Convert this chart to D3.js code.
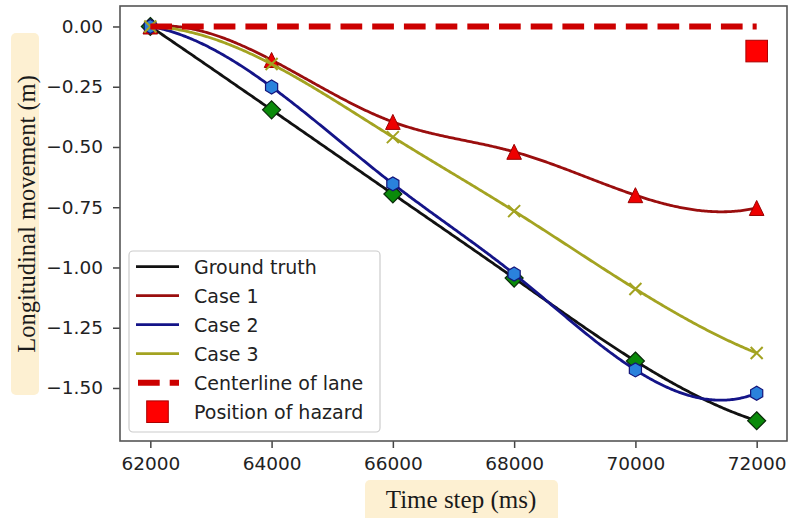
<!DOCTYPE html>
<html>
<head>
<meta charset="utf-8">
<script src="https://cdn.jsdelivr.net/npm/d3@7"></script>
<style>
  html, body { margin: 0; padding: 0; background: #fff; }
  svg { display: block; }
</style>
</head>
<body>
<svg id="chart" width="788" height="518"></svg>
<script>
// ---------- data ----------
const timeSteps = [62000, 64000, 66000, 68000, 70000, 72000];
const groundTruth = [0, -0.346, -0.695, -1.044, -1.388, -1.636];
const case1 = [0, -0.139, -0.396, -0.520, -0.700, -0.753];
const case2 = [0, -0.251, -0.653, -1.027, -1.425, -1.522];
const case3 = [0, -0.156, -0.459, -0.766, -1.089, -1.355];
const centerlineX = [62000, 72000];
const centerlineY = [0, 0];
const hazard = [72000, -0.102];
const xTicks = [62000, 64000, 66000, 68000, 70000, 72000];
const yTicks = [0, -0.25, -0.5, -0.75, -1.0, -1.25, -1.5];
const legendLabels = ["Ground truth", "Case 1", "Case 2", "Case 3", "Centerline of lane", "Position of hazard"];

// ---------- not-a-knot cubic spline ----------
function spline(xs, ys) {
  const n = xs.length;
  const h = [];
  for (let i = 0; i < n - 1; i++) h.push(xs[i + 1] - xs[i]);
  const A = Array.from({length: n}, () => new Array(n).fill(0));
  const b = new Array(n).fill(0);
  A[0][0] = h[1]; A[0][1] = -(h[0] + h[1]); A[0][2] = h[0];
  for (let i = 1; i < n - 1; i++) {
    A[i][i - 1] = h[i - 1];
    A[i][i] = 2 * (h[i - 1] + h[i]);
    A[i][i + 1] = h[i];
    b[i] = 6 * ((ys[i + 1] - ys[i]) / h[i] - (ys[i] - ys[i - 1]) / h[i - 1]);
  }
  const k = n - 1;
  A[k][k - 2] = h[k - 1]; A[k][k - 1] = -(h[k - 2] + h[k - 1]); A[k][k] = h[k - 2];
  // gaussian elimination with pivoting
  for (let c = 0; c < n; c++) {
    let p = c;
    for (let r = c + 1; r < n; r++) if (Math.abs(A[r][c]) > Math.abs(A[p][c])) p = r;
    [A[c], A[p]] = [A[p], A[c]]; [b[c], b[p]] = [b[p], b[c]];
    for (let r = c + 1; r < n; r++) {
      const f = A[r][c] / A[c][c];
      for (let j = c; j < n; j++) A[r][j] -= f * A[c][j];
      b[r] -= f * b[c];
    }
  }
  const M = new Array(n).fill(0);
  for (let r = n - 1; r >= 0; r--) {
    let s = b[r];
    for (let j = r + 1; j < n; j++) s -= A[r][j] * M[j];
    M[r] = s / A[r][r];
  }
  return function(x) {
    let i = 0;
    while (i < n - 2 && x > xs[i + 1]) i++;
    const hi = h[i], a = xs[i + 1] - x, t = x - xs[i];
    return M[i] * a * a * a / (6 * hi) + M[i + 1] * t * t * t / (6 * hi)
      + (ys[i] / hi - M[i] * hi / 6) * a + (ys[i + 1] / hi - M[i + 1] * hi / 6) * t;
  };
}

// ---------- layout ----------
const svg = d3.select("#chart");
const L = 120, R = 787, T = 6, B = 441;
const x = d3.scaleLinear().domain([61500, 72500]).range([L, R]);
const y = d3.scaleLinear().domain([-1.72, 0.085]).range([B, T]);

const tickFont = "'DejaVu Sans', sans-serif";
const labelFont = "'Liberation Serif', 'DejaVu Serif', serif";

// axis label boxes
svg.append("rect").attr("x", 11).attr("y", 33).attr("width", 28).attr("height", 362)
  .attr("rx", 5).attr("fill", "#fdf0d2");
svg.append("rect").attr("x", 365).attr("y", 480).attr("width", 193).attr("height", 45)
  .attr("rx", 5).attr("fill", "#fdf0d2");

svg.append("text").attr("transform", "translate(35,214) rotate(-90)")
  .attr("text-anchor", "middle").attr("font-family", labelFont).attr("font-size", 24.5)
  .attr("fill", "#1a1a1a").text("Longitudinal movement (m)");
svg.append("text").attr("x", 461).attr("y", 508)
  .attr("text-anchor", "middle").attr("font-family", labelFont).attr("font-size", 25)
  .attr("fill", "#1a1a1a").text("Time step (ms)");

// axes
const xAxis = svg.append("g").attr("transform", `translate(0,${B})`)
  .call(d3.axisBottom(x).tickValues(xTicks).tickFormat(d3.format("d")).tickSize(7).tickPadding(9));
const yAxis = svg.append("g").attr("transform", `translate(${L},0)`)
  .call(d3.axisLeft(y).tickValues(yTicks).tickFormat(d3.format(".2f")).tickSize(7).tickPadding(10));
[xAxis, yAxis].forEach(g => {
  g.select(".domain").remove();
  g.selectAll(".tick line").attr("stroke", "#444").attr("stroke-width", 1.5);
  g.selectAll(".tick text").attr("font-family", tickFont).attr("font-size", 18.5).attr("fill", "#222");
});

// frame
svg.append("rect").attr("x", L).attr("y", T).attr("width", R - L).attr("height", B - T)
  .attr("fill", "none").attr("stroke", "#555").attr("stroke-width", 1.6);

const plot = svg.append("g");

// curves
function drawSeries(vals, color) {
  const f = spline(timeSteps, vals);
  const xs = d3.range(timeSteps[0], timeSteps[timeSteps.length - 1] + 1, 25);
  plot.append("path").datum(xs)
    .attr("d", d3.line().x(d => x(d)).y(d => y(f(d))))
    .attr("fill", "none").attr("stroke", color).attr("stroke-width", 2.8);
}

const colGT = "#111", colC1 = "#9a0e0e", colC2 = "#141488", colC3 = "#a3a321";

// ground truth
drawSeries(groundTruth, colGT);
plot.selectAll(".dia").data(timeSteps).enter().append("path")
  .attr("transform", (d, i) => `translate(${x(d)},${y(groundTruth[i])})`)
  .attr("d", "M0,-9L9,0L0,9L-9,0Z")
  .attr("fill", "#0a8a0a").attr("stroke", "#0a2a0a").attr("stroke-width", 1.2);

// case 1
drawSeries(case1, colC1);
plot.selectAll(".tri").data(timeSteps).enter().append("path")
  .attr("transform", (d, i) => `translate(${x(d)},${y(case1[i])})`)
  .attr("d", "M0,-7.5L7.3,7.5L-7.3,7.5Z")
  .attr("fill", "#ee0000").attr("stroke", "#990000").attr("stroke-width", 1);

// case 2
drawSeries(case2, colC2);
const hex = d3.range(6).map(k => {
  const a = Math.PI / 6 + k * Math.PI / 3;
  return [7 * Math.cos(a), 7 * Math.sin(a)];
});
plot.selectAll(".hex").data(timeSteps).enter().append("path")
  .attr("transform", (d, i) => `translate(${x(d)},${y(case2[i])})`)
  .attr("d", "M" + hex.map(p => p.join(",")).join("L") + "Z")
  .attr("fill", "#2a82dc").attr("stroke", "#14147a").attr("stroke-width", 1.2);

// case 3
drawSeries(case3, colC3);
plot.selectAll(".xm").data(timeSteps).enter().append("path")
  .attr("transform", (d, i) => `translate(${x(d)},${y(case3[i])})`)
  .attr("d", "M-6,-6L6,6M-6,6L6,-6")
  .attr("fill", "none").attr("stroke", colC3).attr("stroke-width", 2);

// centerline
plot.append("path").datum(centerlineX.map((d, i) => [d, centerlineY[i]]))
  .attr("d", d3.line().x(d => x(d[0])).y(d => y(d[1])))
  .attr("stroke", "#cc0000").attr("stroke-width", 6).attr("stroke-dasharray", "21.7,10");

// hazard
plot.append("rect").attr("x", x(hazard[0]) - 10.8).attr("y", y(hazard[1]) - 10.8)
  .attr("width", 21.6).attr("height", 21.6)
  .attr("fill", "#ff0000").attr("stroke", "#aa0000").attr("stroke-width", 1);

// legend
const lg = svg.append("g");
lg.append("rect").attr("x", 129).attr("y", 251).attr("width", 251).attr("height", 181)
  .attr("rx", 4).attr("fill", "rgba(255,255,255,0.85)").attr("stroke", "#ccc").attr("stroke-width", 1.2);
const rowY = i => 266.7 + i * 29;
const lineCols = [colGT, colC1, colC2, colC3];
legendLabels.forEach((lab, i) => {
  if (i < 4) {
    lg.append("line").attr("x1", 136).attr("x2", 179).attr("y1", rowY(i)).attr("y2", rowY(i))
      .attr("stroke", lineCols[i]).attr("stroke-width", 2.8);
  } else if (i === 4) {
    lg.append("line").attr("x1", 138).attr("x2", 179).attr("y1", rowY(i)).attr("y2", rowY(i))
      .attr("stroke", "#cc0000").attr("stroke-width", 6).attr("stroke-dasharray", "21.7,10");
  } else {
    lg.append("rect").attr("x", 157.5 - 10.8).attr("y", rowY(i) - 10.8).attr("width", 21.6).attr("height", 21.6)
      .attr("fill", "#ff0000").attr("stroke", "#aa0000").attr("stroke-width", 1);
  }
  lg.append("text").attr("x", 194).attr("y", rowY(i)).attr("dy", "0.36em")
    .attr("font-family", tickFont).attr("font-size", 19).attr("fill", "#222").text(lab);
});
</script>
</body>
</html>
